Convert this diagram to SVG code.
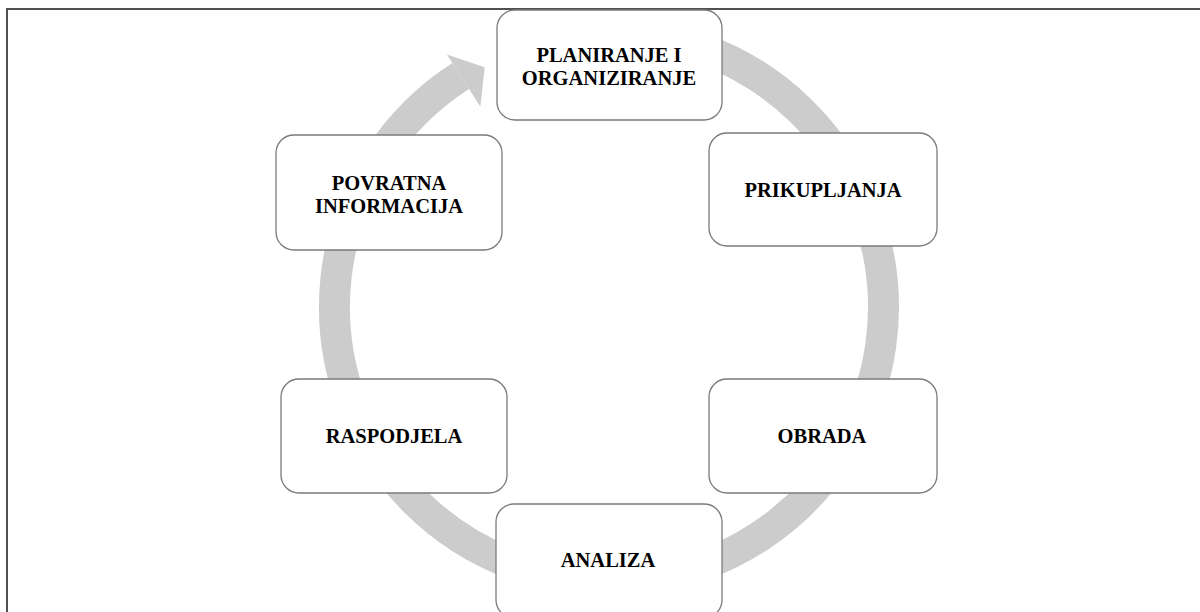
<svg xmlns="http://www.w3.org/2000/svg" width="1200" height="612" viewBox="0 0 1200 612">
<style>
.box{fill:#ffffff;stroke:#7a7a7a;stroke-width:1.3}
.lbl{font-family:"Liberation Serif","Times New Roman",serif;font-weight:bold;font-size:20.5px;fill:#000;text-anchor:middle}
.ring{fill:none;stroke:#cccccc;stroke-width:31}
</style>
<rect x="0" y="0" width="1200" height="612" fill="#ffffff"/>
<rect x="7" y="9" width="1200" height="610" fill="none" stroke="#505050" stroke-width="2"/>
<g id="connectors">
<path class="ring" d="M 702.9 49.1 A 274.5 274.5 0 1 1 460.7 76.0"/>
<polygon points="446.9,54.5 484.7,67.3 480.4,106.7" fill="#cccccc"/>
</g>
<g id="node-planiranje">
<rect class="box" x="497" y="10" width="225" height="110" rx="18"/>
<text class="lbl" x="609" y="62">PLANIRANJE I</text>
<text class="lbl" x="609" y="85">ORGANIZIRANJE</text>
</g>
<g id="node-prikupljanja">
<rect class="box" x="709" y="133" width="228" height="113" rx="18"/>
<text class="lbl" x="823" y="197">PRIKUPLJANJA</text>
</g>
<g id="node-obrada">
<rect class="box" x="709" y="379" width="228" height="114" rx="18"/>
<text class="lbl" x="822" y="443">OBRADA</text>
</g>
<g id="node-analiza">
<rect class="box" x="496" y="504" width="226" height="114" rx="18"/>
<text class="lbl" x="608" y="567">ANALIZA</text>
</g>
<g id="node-raspodjela">
<rect class="box" x="281" y="379" width="226" height="114" rx="18"/>
<text class="lbl" x="394" y="443">RASPODJELA</text>
</g>
<g id="node-povratna">
<rect class="box" x="276" y="135" width="226" height="115" rx="18"/>
<text class="lbl" x="389" y="190">POVRATNA</text>
<text class="lbl" x="389" y="213">INFORMACIJA</text>
</g>
</svg>
